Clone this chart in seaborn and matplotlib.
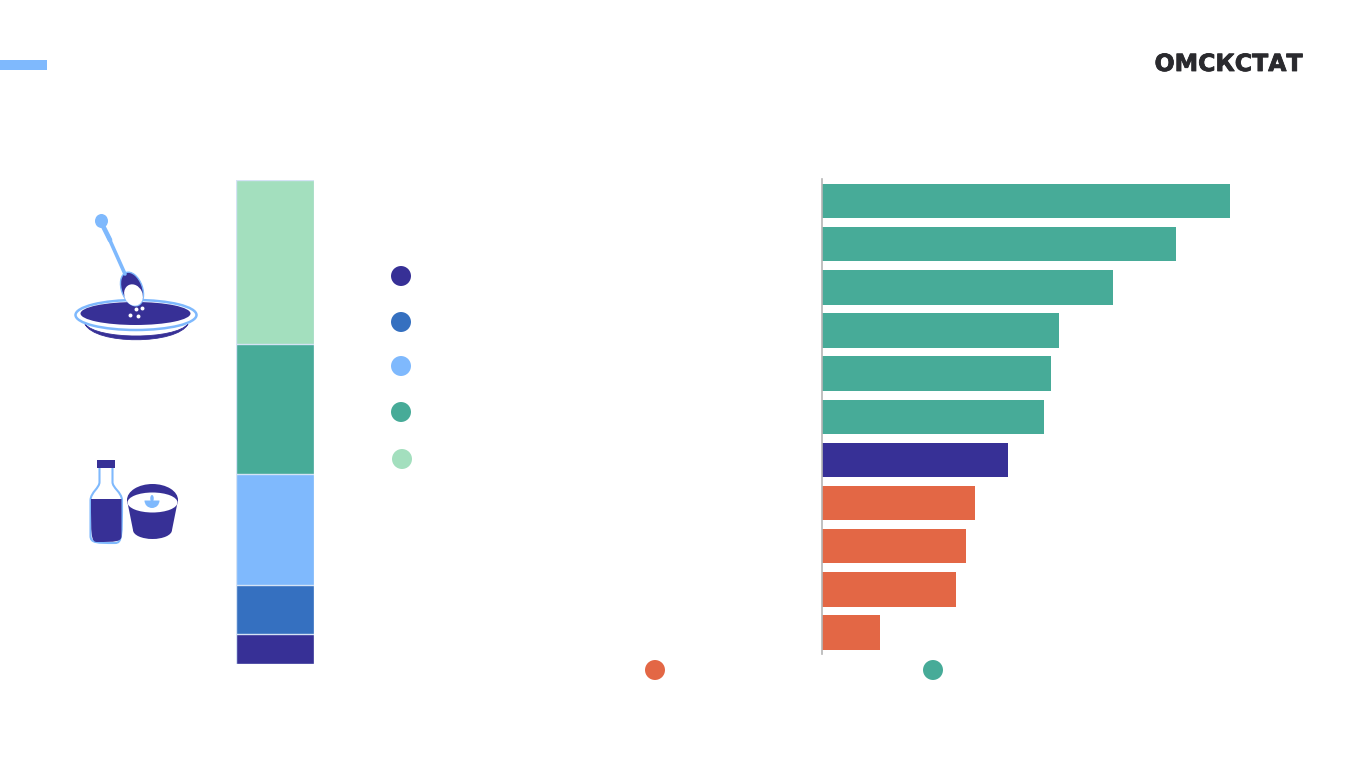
import matplotlib
matplotlib.use("Agg")
import matplotlib.pyplot as plt
import matplotlib.patheffects as pe
from matplotlib.patches import Ellipse, Rectangle, PathPatch, Wedge, Polygon
from matplotlib.path import Path
import seaborn as sns

sns.set_theme(style="white")

PURPLE, BLUE, SKY, TEAL, MINT, ORANGE = "#373096", "#3570C0", "#7FB9FD", "#47AB98", "#A3DFBE", "#E36745"

# stacked column shares, bottom to top
stack_shares = [6.2, 10.1, 22.9, 26.9, 33.9]
stack_colors = [PURPLE, BLUE, SKY, TEAL, MINT]

# ranked bars, top to bottom
bar_names = ["a", "b", "c", "d", "e", "f", "g", "h", "i", "j", "k"]
bar_values = [408, 354, 291, 237, 229, 222, 186, 153, 144, 134, 58]
bar_colors = [TEAL] * 6 + [PURPLE] + [ORANGE] * 4

# legend dots: colours of the unlabelled markers
legend_x = [401, 401, 401, 401, 402, 655, 933]
legend_y = [276, 322, 366, 412, 459, 670, 670]
legend_colors = [PURPLE, BLUE, SKY, TEAL, MINT, ORANGE, TEAL]

W, H = 1350, 759
fig = plt.figure(figsize=(W / 100, H / 100), dpi=100, facecolor="white")


def px_axes(x0, y0, x1, y1, **kw):
    return fig.add_axes([x0 / W, 1 - y1 / H, (x1 - x0) / W, (y1 - y0) / H], **kw)


# ---- overlay for decoration ----
bg = px_axes(0, 0, W, H)
bg.set_xlim(0, W)
bg.set_ylim(H, 0)
bg.axis("off")

bg.add_patch(Rectangle((0, 60), 47, 10, color=SKY, lw=0))
bg.text(1228.5, 64, "ОМСКСТАТ", family="DejaVu Sans", weight="bold", fontsize=17,
        color="#2A2A2E", ha="center", va="center",
        path_effects=[pe.withStroke(linewidth=0.6, foreground="#2A2A2E")])

sns.scatterplot(x=legend_x, y=legend_y, hue=list(range(len(legend_x))),
                palette=legend_colors, s=207, linewidth=0, legend=False, ax=bg, zorder=3)
bg.set_xlim(0, W)
bg.set_ylim(H, 0)
bg.set_xlabel("")
bg.set_ylabel("")

# bowl icon
C4 = Path.CURVE4
bg.add_patch(PathPatch(Path([(85, 324), (95, 345), (177, 345), (188, 324), (175, 340), (97, 340), (85, 324)],
                            [Path.MOVETO, C4, C4, C4, C4, C4, C4]), fc=PURPLE, ec=PURPLE, lw=0.6))
bg.add_patch(Ellipse((136, 315), 121, 30, fc="white", ec=SKY, lw=1.8))
bg.add_patch(Ellipse((135.5, 313.5), 110, 23, fc=PURPLE, ec="none"))
bg.plot([103, 110], [226, 240], color=SKY, lw=3.4, solid_capstyle="round")
bg.plot([108, 125], [236, 274], color=SKY, lw=2.6, solid_capstyle="round")
bg.add_patch(Ellipse((101.5, 221), 13, 14, color=SKY, lw=0))
bg.add_patch(Ellipse((132, 289), 21, 35, angle=-20, fc=PURPLE, ec=SKY, lw=1.0))
bg.add_patch(Ellipse((133.5, 295), 18, 22, angle=-25, fc="white", ec="none"))
bg.scatter([136, 142, 130, 138], [309, 308, 315, 316], s=8, color="white", lw=0, zorder=4)

# bottle icon
LT = Path.LINETO
bg.add_patch(PathPatch(Path(
    [(99.5, 467), (99.5, 482), (99.5, 488), (91, 492), (90.5, 500), (90.5, 536), (90.5, 543), (97, 543),
     (115, 543), (122, 543), (122, 536), (122, 500), (121.5, 492), (112.5, 488), (112.5, 482), (112.5, 467)],
    [Path.MOVETO, LT, C4, C4, C4, LT, C4, C4, LT, C4, C4, LT, C4, C4, C4, LT]),
    fc="white", ec=SKY, lw=1.5))
bg.add_patch(PathPatch(Path(
    [(91, 499), (121.5, 499), (121.5, 536), (121.5, 542), (115, 542), (97, 542), (91, 542), (91, 536), (91, 499)],
    [Path.MOVETO, LT, LT, C4, C4, LT, C4, C4, LT]),
    fc=PURPLE, ec="none"))
bg.add_patch(Rectangle((97, 460), 18, 8, color=PURPLE, lw=0))

# cup icon
bg.add_patch(Polygon([(127, 500), (178, 500), (172, 530), (133, 530)], color=PURPLE, lw=0))
bg.add_patch(Ellipse((152.5, 530), 39, 18, color=PURPLE, lw=0))
bg.add_patch(Ellipse((152.5, 500), 51, 32, color=PURPLE, lw=0))
bg.add_patch(Ellipse((152.5, 502.5), 50, 20, color="white", lw=0))
bg.add_patch(Wedge((152, 500.5), 7.5, 0, 180, color=SKY, lw=0))
bg.add_patch(Ellipse((152, 498.5), 3.5, 7, color=SKY, lw=0))

# ---- stacked column ----
ax1 = px_axes(235.7, 180, 314.3, 664)
running = [sum(stack_shares[: i + 1]) for i in range(len(stack_shares))]
for total, color in reversed(list(zip(running, stack_colors))):
    sns.barplot(x=["share"], y=[total], color=color, saturation=1, width=1, ax=ax1,
                edgecolor="#D5E3F5", linewidth=1)
ax1.set_ylim(0, 100)
ax1.axis("off")

# ---- ranked bars ----
ax2 = px_axes(822, 179.5, 1240, 654.1)
sns.barplot(x=bar_values, y=bar_names, hue=bar_names, palette=bar_colors, saturation=1,
            width=0.8, legend=False, ax=ax2, orient="h", linewidth=0)
ax2.set_xlim(0, 418)
ax2.set_xlabel("")
ax2.set_ylabel("")
ax2.set_xticks([])
ax2.set_yticks([])
ax2.patch.set_alpha(0)
for side in ["top", "right", "bottom"]:
    ax2.spines[side].set_visible(False)
ax2.spines["left"].set_color("#B5B5B5")
ax2.spines["left"].set_linewidth(1.2)

fig.savefig("out.png", dpi=100, facecolor="white")
